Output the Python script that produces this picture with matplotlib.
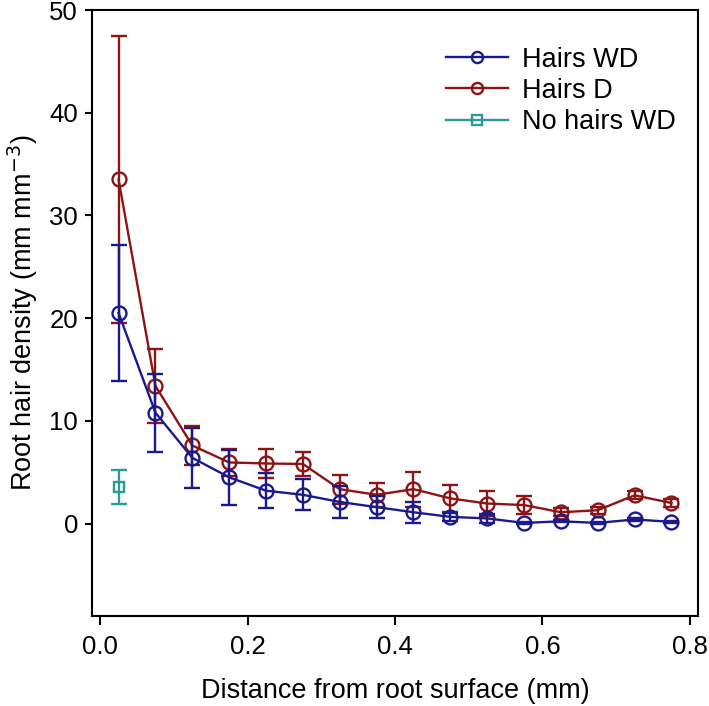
import matplotlib
matplotlib.use('Agg')
import matplotlib.pyplot as plt
from matplotlib.lines import Line2D
import numpy as np

plt.rcParams['font.family'] = ['Liberation Sans', 'DejaVu Sans']

distance = np.array([0.025, 0.075, 0.125, 0.175, 0.225, 0.275, 0.325, 0.375,
                     0.425, 0.475, 0.525, 0.575, 0.625, 0.675, 0.725, 0.775])

hairs_wd = [20.5, 10.8, 6.4, 4.5, 3.2, 2.8, 2.1, 1.6,
            1.1, 0.65, 0.5, 0.06, 0.22, 0.06, 0.4, 0.16]
hairs_wd_err = [6.6, 3.8, 2.9, 2.7, 1.7, 1.5, 1.6, 1.1,
                1.0, 0.4, 0.4, 0.1, 0.1, 0.1, 0.15, 0.1]

hairs_d = [33.5, 13.4, 7.6, 5.95, 5.85, 5.8, 3.35, 2.8,
           3.35, 2.45, 1.95, 1.8, 1.1, 1.3, 2.75, 2.0]
hairs_d_err = [14.0, 3.6, 1.9, 1.3, 1.4, 1.15, 1.4, 1.15,
               1.7, 1.3, 1.2, 0.9, 0.4, 0.35, 0.4, 0.35]

no_hairs_x = [0.025]
no_hairs_wd = [3.6]
no_hairs_wd_err = [1.65]

c_wd = '#1a1a8c'
c_d = '#8c1414'
c_no = '#2a9a9a'

fig = plt.figure(figsize=(7.09, 7.06), dpi=100)
ax = fig.add_axes([0.1298, 0.1275, 0.8547, 0.8583])

style = dict(marker='o', markersize=10, markerfacecolor='none', markeredgewidth=1.7,
             linewidth=1.7, capsize=6, elinewidth=1.7, capthick=1.7)

ax.errorbar(distance, hairs_wd, yerr=hairs_wd_err, color=c_wd, zorder=3, **style)
ax.errorbar(distance, hairs_d, yerr=hairs_d_err, color=c_d, zorder=2, **style)
sq = dict(style)
sq['marker'] = 's'
sq['markersize'] = 7
ax.errorbar(no_hairs_x, no_hairs_wd, yerr=no_hairs_wd_err, color=c_no, zorder=2, **sq)

ax.set_xlim(-0.011, 0.811)
ax.set_ylim(-9, 50)
ax.set_xticks([0.0, 0.2, 0.4, 0.6, 0.8])
ax.set_xticklabels(['0.0', '0.2', '0.4', '0.6', '0.8'])
ax.set_yticks([0, 10, 20, 30, 40, 50])

for s in ax.spines.values():
    s.set_linewidth(1.5)
ax.tick_params(direction='out', width=1.5, labelsize=18.5)
ax.tick_params(axis='x', length=6.5, pad=7)
ax.tick_params(axis='y', length=5, pad=5)

ax.set_xlabel('Distance from root surface (mm)', fontsize=19.5, labelpad=14)
ax.set_ylabel('Root hair density (mm mm$^{-3}$)', fontsize=19.5, labelpad=7)

handles = [
    Line2D([], [], color=c_wd, marker='o', markersize=8, markerfacecolor='none', markeredgewidth=1.7, linewidth=1.7),
    Line2D([], [], color=c_d, marker='o', markersize=8, markerfacecolor='none', markeredgewidth=1.7, linewidth=1.7),
    Line2D([], [], color=c_no, marker='s', markersize=7, markerfacecolor='none', markeredgewidth=1.7, linewidth=1.7),
]
ax.legend(handles, ['Hairs WD', 'Hairs D', 'No hairs WD'], loc='upper right',
          bbox_to_anchor=(1.003, 0.98), frameon=False, fontsize=19.5,
          handlelength=2.3, labelspacing=0.2, handletextpad=0.5)

fig.savefig('out.png', dpi=100)
